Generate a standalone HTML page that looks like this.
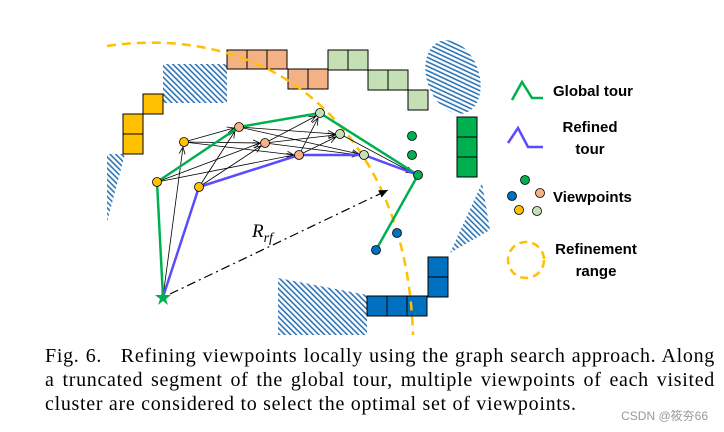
<!DOCTYPE html>
<html><head><meta charset="utf-8"><style>
body{margin:0;width:724px;height:432px;background:#fff;position:relative;overflow:hidden}
svg{position:absolute;left:0;top:0}
.cap{position:absolute;left:45px;width:670px;font-family:"Liberation Serif",serif;font-size:20px;letter-spacing:0.7px;line-height:24px;color:#000;white-space:nowrap}
.j{text-align:justify;text-align-last:justify}
.lg{font-family:"Liberation Sans",sans-serif;font-weight:bold;font-size:15px}
</style></head><body>
<svg width="724" height="432" viewBox="0 0 724 432">
<defs>
<pattern id="h" width="4" height="4" patternUnits="userSpaceOnUse" patternTransform="rotate(-45)">
<rect width="4" height="4" fill="#fff"/><rect width="1.6" height="4" fill="#2E75B6"/></pattern>
<marker id="a" markerWidth="8" markerHeight="8" refX="7" refY="4" orient="auto" markerUnits="userSpaceOnUse"><path d="M0,1 L7,4 L0,7" fill="none" stroke="#000" stroke-width="0.8"/></marker>
<marker id="af" markerWidth="10" markerHeight="8" refX="9" refY="4" orient="auto" markerUnits="userSpaceOnUse"><path d="M0,0 L9,4 L0,8z" fill="#000"/></marker>
</defs>
<rect x="163" y="64" width="64" height="39" fill="url(#h)"/>
<polygon points="107,154 125,154 107,222" fill="url(#h)"/>
<ellipse cx="453" cy="77" rx="26" ry="38" transform="rotate(-20 453 77)" fill="url(#h)"/>
<polygon points="482,183 490,230 450,253" fill="url(#h)"/>
<polygon points="278,278 367,295 367,335 278,335" fill="url(#h)"/>
<g stroke="#000" stroke-width="1">
<g fill="#FFC000"><rect x="123" y="114" width="20" height="20"/><rect x="123" y="134" width="20" height="20"/><rect x="143" y="94" width="20" height="20"/></g>
<g fill="#F4B183"><rect x="227" y="50" width="20" height="19"/><rect x="247" y="50" width="20" height="19"/><rect x="267" y="50" width="20" height="19"/><rect x="288" y="69" width="20" height="20"/><rect x="308" y="69" width="20" height="20"/></g>
<g fill="#C5E0B4"><rect x="328" y="50" width="20" height="20"/><rect x="348" y="50" width="20" height="20"/><rect x="368" y="70" width="20" height="20"/><rect x="388" y="70" width="20" height="20"/><rect x="408" y="90" width="20" height="20"/></g>
<g fill="#00B050"><rect x="457" y="117" width="20" height="20"/><rect x="457" y="137" width="20" height="20"/><rect x="457" y="157" width="20" height="20"/></g>
<g fill="#0070C0"><rect x="367" y="296" width="20" height="20"/><rect x="387" y="296" width="20" height="20"/><rect x="407" y="296" width="20" height="20"/><rect x="428" y="257" width="20" height="20"/><rect x="428" y="277" width="20" height="20"/></g>
</g>
<path d="M107,46 C180,35 260,50 320,105 C380,160 410,240 413,335" fill="none" stroke="#FFC000" stroke-width="2.5" stroke-dasharray="9,6"/>
<g stroke="#000" stroke-width="0.8" marker-end="url(#a)">
<line x1="163" y1="297" x2="183" y2="147"/>
<line x1="157" y1="182" x2="260" y2="143"/>
<line x1="157" y1="182" x2="294" y2="155"/>
<line x1="184" y1="142" x2="234" y2="128"/>
<line x1="184" y1="142" x2="260" y2="143"/>
<line x1="184" y1="142" x2="294" y2="155"/>
<line x1="199" y1="187" x2="235" y2="131"/>
<line x1="199" y1="187" x2="261" y2="146"/>
<line x1="239" y1="127" x2="335" y2="134"/>
<line x1="239" y1="127" x2="359" y2="154"/>
<line x1="265" y1="143" x2="316" y2="116"/>
<line x1="265" y1="143" x2="335" y2="135"/>
<line x1="265" y1="143" x2="359" y2="155"/>
<line x1="299" y1="155" x2="318" y2="118"/>
<line x1="299" y1="155" x2="336" y2="137"/>
<line x1="340" y1="134" x2="413" y2="173"/>
</g>
<polyline points="163,297 157,182 239,127 320,113 418,175 376,250" fill="none" stroke="#00B050" stroke-width="2.5" stroke-linejoin="round"/>
<polyline points="163,297 199,187 299,155 364,155 418,175" fill="none" stroke="#5B4BFF" stroke-width="2.5" stroke-linejoin="round"/>
<line x1="170" y1="294" x2="388" y2="190" stroke="#000" stroke-width="1.2" stroke-dasharray="9,4,2,4" marker-end="url(#af)"/>
<text x="252" y="237" font-family="Liberation Serif,serif" font-style="italic" font-size="19">R<tspan font-size="14" dy="5">rf</tspan></text>
<g stroke="#000" stroke-width="0.8">
<g fill="#FFC000"><circle cx="157" cy="182" r="4.5"/><circle cx="184" cy="142" r="4.5"/><circle cx="199" cy="187" r="4.5"/></g>
<g fill="#F4B183"><circle cx="239" cy="127" r="4.5"/><circle cx="265" cy="143" r="4.5"/><circle cx="299" cy="155" r="4.5"/></g>
<g fill="#C5E0B4"><circle cx="320" cy="113" r="4.5"/><circle cx="340" cy="134" r="4.5"/><circle cx="364" cy="155" r="4.5"/></g>
<g fill="#00B050"><circle cx="412" cy="136" r="4.5"/><circle cx="412" cy="155" r="4.5"/><circle cx="418" cy="175" r="4.5"/></g>
<g fill="#0070C0"><circle cx="397" cy="233" r="4.5"/><circle cx="376" cy="250" r="4.5"/></g>
</g>
<polygon points="163,289 165,295 171,295 166,299 168,305 163,301 158,305 160,299 155,295 161,295" fill="#00B050"/>
<polyline points="512,100 522,82 532,98 543,98" fill="none" stroke="#00B050" stroke-width="2.5"/>
<text class="lg" x="553" y="96">Global tour</text>
<polyline points="508,143 518,128 528,147 543,147" fill="none" stroke="#5B4BFF" stroke-width="2.5"/>
<text class="lg" x="590" y="132" text-anchor="middle">Refined</text>
<text class="lg" x="590" y="154" text-anchor="middle">tour</text>
<g stroke="#000" stroke-width="0.8">
<circle cx="525" cy="180" r="4.5" fill="#00B050"/><circle cx="512" cy="196" r="4.5" fill="#0070C0"/><circle cx="540" cy="193" r="4.5" fill="#F4B183"/><circle cx="519" cy="210" r="4.5" fill="#FFC000"/><circle cx="537" cy="211" r="4.5" fill="#C5E0B4"/>
</g>
<text class="lg" x="553" y="202">Viewpoints</text>
<circle cx="526" cy="260" r="18" fill="none" stroke="#FFC000" stroke-width="2.5" stroke-dasharray="8,5"/>
<text class="lg" x="596" y="254" text-anchor="middle">Refinement</text>
<text class="lg" x="596" y="276" text-anchor="middle">range</text>
<text x="708" y="420" text-anchor="end" font-family="Liberation Sans,'Noto Sans CJK SC',sans-serif" font-size="12" fill="#999">CSDN @筱夯66</text>
</svg>
<div class="cap j" style="top:344px">Fig. 6.&nbsp;&nbsp;&nbsp;Refining viewpoints locally using the graph search approach. Along</div>
<div class="cap j" style="top:368px">a truncated segment of the global tour, multiple viewpoints of each visited</div>
<div class="cap" style="top:392px">cluster are considered to select the optimal set of viewpoints.</div>
</body></html>
